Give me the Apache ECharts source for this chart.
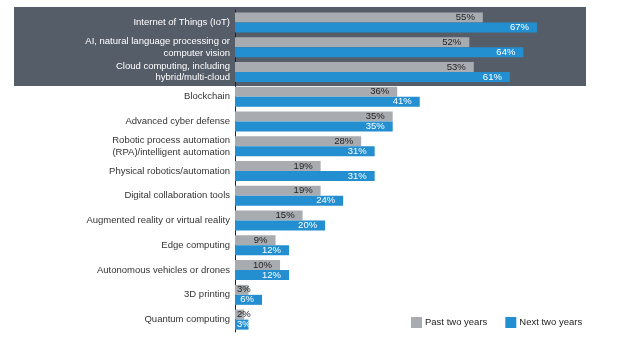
<!DOCTYPE html>
<html><head><meta charset="utf-8">
<script src="https://cdn.jsdelivr.net/npm/echarts@6/dist/echarts.min.js"></script>
<style>html,body{margin:0;padding:0;background:#fff}#c{width:621px;height:342px}</style>
</head><body><div id="c"></div>
<script>
const categories = [
  "Internet of Things (IoT)",
  "AI, natural language processing or\ncomputer vision",
  "Cloud computing, including\nhybrid/multi-cloud",
  "Blockchain",
  "Advanced cyber defense",
  "Robotic process automation\n(RPA)/intelligent automation",
  "Physical robotics/automation",
  "Digital collaboration tools",
  "Augmented reality or virtual reality",
  "Edge computing",
  "Autonomous vehicles or drones",
  "3D printing",
  "Quantum computing"
];
const pastTwoYears = [55, 52, 53, 36, 35, 28, 19, 19, 15, 9, 10, 3, 2];
const nextTwoYears = [67, 64, 61, 41, 35, 31, 31, 24, 20, 12, 12, 6, 3];
const highlighted = 3;

const FONT = '"Liberation Sans Narrow", sans-serif';
const chart = echarts.init(document.getElementById('c'));
function mk(vals) {
  return vals.map(v => ({
    value: v,
    label: { position: v < 5 ? 'insideLeft' : 'insideRight', distance: v < 5 ? 2 : 8 }
  }));
}
chart.setOption({
  animation: false,
  graphic: [{
    type: 'rect', z: -10, silent: true,
    shape: { x: 14, y: 7, width: 572, height: 79 },
    style: { fill: '#555d69' }
  }],
  legend: {
    left: 411, top: 317, padding: 0, itemWidth: 11, itemHeight: 11, itemGap: 18,
    icon: 'rect',
    textStyle: { fontFamily: 'Liberation Sans, Arial, sans-serif', fontSize: 9.5, color: '#222', padding: [0, 0, 0, -2] },
    data: ['Past two years', 'Next two years']
  },
  grid: { left: 235, right: 3, top: 10, height: 322, containLabel: false },
  xAxis: { type: 'value', min: 0, max: 85, show: false },
  yAxis: {
    type: 'category', data: categories, inverse: true,
    axisLine: { show: true, lineStyle: { color: '#222', width: 1 } },
    axisTick: { show: false },
    axisLabel: {
      margin: 5, fontFamily: FONT, fontSize: 9.5, lineHeight: 11.5,
      color: (v, i) => (i < highlighted ? '#ffffff' : '#333333')
    }
  },
  series: [
    {
      name: 'Past two years', type: 'bar', data: mk(pastTwoYears),
      barWidth: 10, barGap: '0%',
      itemStyle: { color: '#a8acb1' },
      label: { show: true, formatter: '{c}%', color: '#222', fontFamily: FONT, fontSize: 9.5 }
    },
    {
      name: 'Next two years', type: 'bar', data: mk(nextTwoYears),
      barWidth: 10,
      itemStyle: { color: '#238fd0' },
      label: { show: true, formatter: '{c}%', color: '#fff', fontFamily: FONT, fontSize: 9.5 }
    }
  ]
});
</script></body></html>
